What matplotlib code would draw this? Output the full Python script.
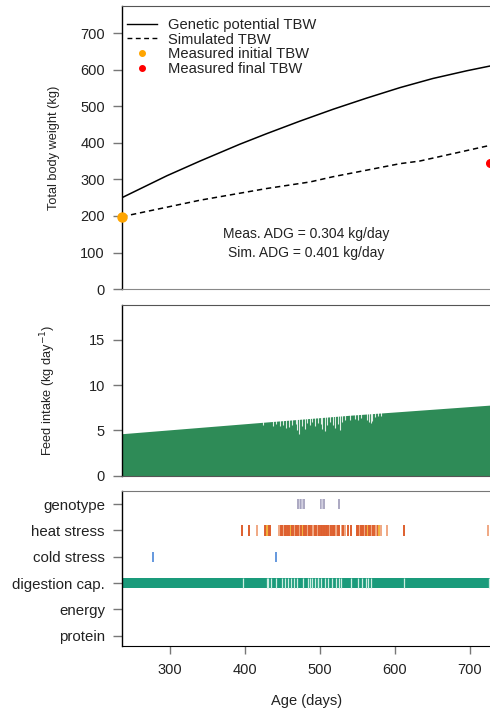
import numpy as np
import matplotlib.pyplot as plt
from matplotlib.lines import Line2D

plt.rcParams['font.family'] = ['Liberation Sans', 'DejaVu Sans']

# body weight (kg) vs age (days)
gen_age = [236, 296, 340, 393, 429, 473, 518, 562, 607, 651, 696, 727]
gen_tbw = [250, 310, 350, 396, 425, 459, 492, 522, 551, 576, 597, 610]
sim_age = [236, 340, 429, 487, 517, 607, 633, 727]
sim_tbw = [198, 243, 275, 293, 307, 343, 350, 393]
meas_age = [236, 727]
meas_tbw = [198, 346]

# feed intake (kg/day): trend and single-day dips
fi_age = [236, 540, 727]
fi_kg = [4.64, 6.68, 7.8]
dip_age = [424, 437, 441, 447, 451, 455, 459, 463, 468, 470, 472, 476, 480, 483,
           487, 490, 494, 497, 501, 503, 507, 510, 513, 517, 520, 524, 527, 530,
           534, 540, 547, 551, 555, 563, 566, 568, 570, 574, 578, 582]
dip_kg = [5.6, 5.5, 5.7, 5.5, 5.6, 5.3, 5.4, 5.6, 5.7, 5.1, 4.6, 5.5, 5.2, 5.8,
          5.6, 5.9, 5.5, 5.8, 5.7, 5.2, 4.9, 5.6, 5.9, 5.6, 5.3, 5.7, 5.0, 5.9,
          6.1, 6.2, 6.3, 6.2, 6.4, 6.2, 5.9, 5.8, 6.0, 6.5, 6.6, 6.6]

# limiting factors
factors = ['genotype', 'heat stress', 'cold stress', 'digestion cap.', 'energy', 'protein']
geno_age = [471, 473, 475, 476, 479, 502, 503, 506, 525]
geno_sev = [0, 1, 0, 1, 0, 0, 1, 0, 0]
heat_age = [396, 405, 416, 427, 428, 430, 432, 433,
            446, 448, 450, 452, 453, 455, 457, 458, 460, 462, 463, 465, 467, 468,
            470, 472, 474, 475, 477, 479, 480, 482, 484, 486, 487, 489, 491, 493,
            494, 496, 498, 499, 501, 503, 505, 506, 508, 510, 512, 513, 515, 517,
            519, 520, 522, 524, 526, 529, 531, 534, 537, 542,
            550, 551, 553, 555, 556, 558, 560, 562, 564, 565, 567, 569, 571, 573,
            575, 577, 579, 581, 589, 612, 724]
heat_sev = [0, 0, 1, 0, 0, 2, 0, 0,
            1, 0, 0, 1, 0, 0, 1, 0, 0, 2, 0, 0, 1, 0,
            0, 0, 1, 0, 2, 0, 0, 0, 1, 0, 0, 0, 1, 2,
            0, 0, 1, 0, 0, 0, 1, 0, 0, 0, 0, 1, 0, 0,
            0, 0, 1, 0, 0, 1, 0, 1, 0, 0,
            0, 0, 1, 0, 0, 0, 1, 0, 2, 0, 0, 1, 0, 0,
            1, 0, 2, 1, 1, 0, 1]
cold_age = [277, 442]
dig_start, dig_end = 236, 727
dig_gap = [398, 429, 431, 435, 442, 449, 453, 458, 462, 466, 469, 478, 484, 487,
           490, 493, 497, 498, 502, 507, 511, 516, 522, 525, 528, 542, 551, 556,
           562, 564, 568, 612, 725]

xlo, xhi = 236.4, 727
tick_col = '#777777'
txt_col = '#222222'

fig = plt.figure(figsize=(4.9, 7.12), dpi=100)
ax1 = fig.add_axes([0.2496, 0.594, 0.7504, 0.3975])
ax2 = fig.add_axes([0.2496, 0.3319, 0.7504, 0.2402])
ax3 = fig.add_axes([0.2496, 0.0931, 0.7504, 0.2173])

for ax in (ax1, ax2, ax3):
    ax.set_xlim(xlo, xhi)
    ax.spines['right'].set_visible(False)
    ax.spines['left'].set_color('black')
    ax.spines['left'].set_linewidth(1.0)
    ax.spines['top'].set_color('#555555')
    ax.spines['bottom'].set_color('#888888')
    ax.tick_params(axis='y', length=6.5, width=1.0, color=tick_col,
                   labelsize=10.5, labelcolor=txt_col, pad=6)
    ax.tick_params(axis='x', length=5.5, width=1.0, color=tick_col,
                   labelsize=10.5, labelcolor=txt_col, pad=7)

# top panel
ax1.plot(gen_age, gen_tbw, color='black', lw=1.1)
ax1.plot(sim_age, sim_tbw, color='black', lw=1.1, ls=(0, (3.5, 2.5)))
ax1.plot(meas_age[0], meas_tbw[0], 'o', color='#FFA500', ms=6.5, clip_on=False, zorder=5)
ax1.plot(meas_age[1], meas_tbw[1], 'o', color='#FF0000', ms=5.5, clip_on=False, zorder=5)
ax1.set_ylim(0, 774)
ax1.set_yticks(range(0, 701, 100))
ax1.set_xticks([])
ax1.set_ylabel('Total body weight (kg)', fontsize=9.2, color=txt_col)
ax1.yaxis.set_label_coords(-0.169, 0.5)
ax1.text(482, 150, 'Meas. ADG = 0.304 kg/day', ha='center', va='center',
         fontsize=10, color=txt_col)
ax1.text(482, 98, 'Sim. ADG = 0.401 kg/day', ha='center', va='center',
         fontsize=10, color=txt_col)
handles = [Line2D([], [], color='black', lw=1.0),
           Line2D([], [], color='black', lw=1.0, ls=(0, (3.5, 2.5))),
           Line2D([], [], color='#FFA500', marker='o', ls='none', ms=4),
           Line2D([], [], color='#FF0000', marker='o', ls='none', ms=4)]
labels = ['Genetic potential TBW', 'Simulated TBW', 'Measured initial TBW',
          'Measured final TBW']
leg = ax1.legend(handles, labels, loc='upper left', bbox_to_anchor=(-0.005, 0.982),
                 frameon=False, fontsize=10.6, handlelength=2.0, handletextpad=0.8,
                 labelspacing=0.05, borderaxespad=0.15, borderpad=0.3)
for t in leg.get_texts():
    t.set_color(txt_col)

# middle panel
ax2.fill_between(fi_age, fi_kg, 0, color='#2E8B57', lw=0)
ax2.vlines(dip_age, dip_kg, 8.5, color='white', lw=0.8, alpha=0.85)
ax2.set_ylim(0, 18.9)
ax2.set_yticks([0, 5, 10, 15])
ax2.set_xticks([])
ax2.spines['bottom'].set_color('#555555')
ax2.set_ylabel('Feed intake (kg day$^{-1}$)', fontsize=9.2, color=txt_col)
ax2.yaxis.set_label_coords(-0.175, 0.5)

# bottom panel
ypos = {f: 6 - i for i, f in enumerate(factors)}
ax3.barh(ypos['digestion cap.'], dig_end - dig_start, left=dig_start, height=0.4,
         color='#1A9B7B', lw=0, clip_on=False)
ax3.vlines(dig_gap, ypos['digestion cap.'] - 0.2, ypos['digestion cap.'] + 0.2,
           color='#CDEEE2', lw=0.9)
geno_cols = ['#9D9AB8', '#C9C7DA']
ax3.vlines(geno_age, ypos['genotype'] - 0.2, ypos['genotype'] + 0.2,
           color=[geno_cols[s] for s in geno_sev], lw=1.2)
heat_cols = ['#DE5F2E', '#F0A883', '#F2B23C']
ax3.vlines(heat_age, ypos['heat stress'] - 0.2, ypos['heat stress'] + 0.2,
           color=[heat_cols[s] for s in heat_sev], lw=1.4)
ax3.vlines(cold_age, ypos['cold stress'] - 0.2, ypos['cold stress'] + 0.2,
           color='#4A86D8', lw=1.2)
ax3.set_ylim(0.62, 6.5)
ax3.set_yticks([ypos[f] for f in factors])
ax3.set_yticklabels(factors, fontsize=10.8)
ax3.set_xticks([300, 400, 500, 600, 700])
ax3.spines['bottom'].set_color('black')
ax3.spines['top'].set_color('#777777')
ax3.set_xlabel('Age (days)', fontsize=10.5, color=txt_col, labelpad=12)

fig.savefig('out.png', dpi=100)
